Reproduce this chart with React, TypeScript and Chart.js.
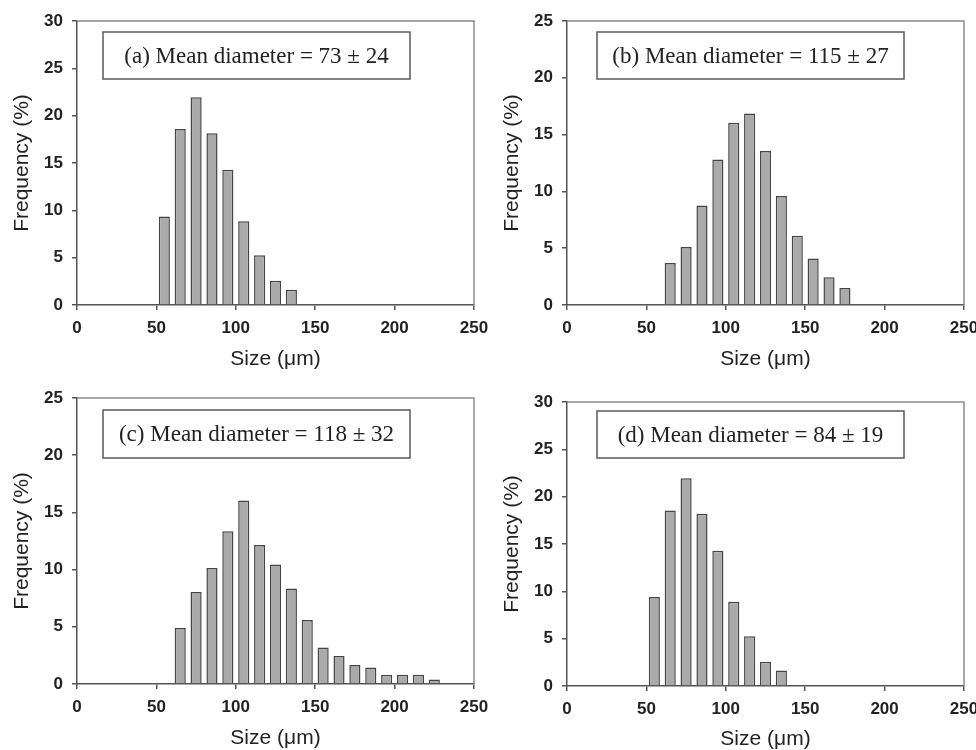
import React, { useEffect, useRef } from 'react';
import { Chart, registerables } from 'chart.js';

Chart.register(...registerables);

// ---- data ----
const sizesA = [55, 65, 75, 85, 95, 105, 115, 125, 135];
const freqA = [9.35, 18.6, 21.95, 18.15, 14.3, 8.85, 5.25, 2.55, 1.6];

const sizesB = [65, 75, 85, 95, 105, 115, 125, 135, 145, 155, 165, 175];
const freqB = [3.7, 5.1, 8.75, 12.8, 16.05, 16.85, 13.55, 9.6, 6.1, 4.1, 2.45, 1.5];

const sizesC = [65, 75, 85, 95, 105, 115, 125, 135, 145, 155, 165, 175, 185, 195, 205, 215, 225];
const freqC = [4.9, 8.05, 10.15, 13.35, 16.05, 12.15, 10.45, 8.35, 5.6, 3.2, 2.45, 1.65, 1.45, 0.8, 0.8, 0.8, 0.4];

const sizesD = [55, 65, 75, 85, 95, 105, 115, 125, 135];
const freqD = [9.4, 18.55, 21.95, 18.2, 14.3, 8.9, 5.25, 2.55, 1.65];

const labelA = '(a) Mean diameter = 73 ± 24';
const labelB = '(b) Mean diameter = 115 ± 27';
const labelC = '(c) Mean diameter = 118 ± 32';
const labelD = '(d) Mean diameter = 84 ± 19';

const xMin = 0;
const xMax = 250;
const xStep = 50;
const yMaxA = 30;
const yMaxB = 25;
const yMaxC = 25;
const yMaxD = 30;
const yStep = 5;

const xTitle = 'Size (μm)';
const yTitle = 'Frequency (%)';

// ---- layout / style ----
type PanelCfg = {
  sizes: number[];
  freq: number[];
  label: string;
  yMax: number;
  left: number;
  top: number;
  w: number;
  h: number;
  padTop: number;
  padRight: number;
  yW: number;
  xH: number;
  yTitlePad: number;
  xTitlePad: number;
  boxDx: number;
  boxDy: number;
  boxW: number;
  boxH: number;
};

const panels: PanelCfg[] = [
  { sizes: sizesA, freq: freqA, label: labelA, yMax: yMaxA, left: 0, top: 0, w: 488, h: 375, padTop: 21, padRight: 14, yW: 77, xH: 70, yTitlePad: 12, xTitlePad: 5, boxDx: 26, boxDy: 11, boxW: 307, boxH: 47 },
  { sizes: sizesB, freq: freqB, label: labelB, yMax: yMaxB, left: 488, top: 0, w: 488, h: 375, padTop: 21, padRight: 12, yW: 79, xH: 70, yTitlePad: 14, xTitlePad: 5, boxDx: 30, boxDy: 11, boxW: 307, boxH: 47 },
  { sizes: sizesC, freq: freqC, label: labelC, yMax: yMaxC, left: 0, top: 375, w: 488, h: 375, padTop: 23, padRight: 14, yW: 77, xH: 66, yTitlePad: 12, xTitlePad: 1, boxDx: 26, boxDy: 12, boxW: 307, boxH: 48 },
  { sizes: sizesD, freq: freqD, label: labelD, yMax: yMaxD, left: 488, top: 375, w: 488, h: 375, padTop: 27, padRight: 12, yW: 79, xH: 64, yTitlePad: 14, xTitlePad: 0, boxDx: 30, boxDy: 9, boxW: 307, boxH: 47 },
];

const barFill = '#aaaaaa';
const barBorder = '#454545';
const axisColor = '#555555';
const frameColor = '#8a8a8a';
const textColor = '#222222';

const framePlugin = {
  id: 'frame',
  afterDatasetsDraw(chart: any) {
    const { ctx, chartArea } = chart;
    ctx.save();
    ctx.strokeStyle = frameColor;
    ctx.lineWidth = 1.5;
    ctx.beginPath();
    ctx.moveTo(chartArea.left, chartArea.top);
    ctx.lineTo(chartArea.right, chartArea.top);
    ctx.lineTo(chartArea.right, chartArea.bottom);
    ctx.stroke();
    ctx.restore();
  },
};

const boxPlugin = {
  id: 'meanBox',
  afterDraw(chart: any, _args: any, opts: any) {
    if (!opts || !opts.text) return;
    const { ctx, chartArea } = chart;
    const x = chartArea.left + opts.dx;
    const y = chartArea.top + opts.dy;
    ctx.save();
    ctx.fillStyle = '#ffffff';
    ctx.fillRect(x, y, opts.w, opts.h);
    ctx.strokeStyle = '#5a5a5a';
    ctx.lineWidth = 1.5;
    ctx.strokeRect(x, y, opts.w, opts.h);
    ctx.fillStyle = textColor;
    ctx.font = '23px "Liberation Serif", "Times New Roman", serif';
    ctx.textAlign = 'center';
    ctx.textBaseline = 'middle';
    ctx.fillText(opts.text, x + opts.w / 2, y + opts.h / 2 + 1);
    ctx.restore();
  },
};

function Panel({ cfg }: { cfg: PanelCfg }) {
  const ref = useRef<HTMLCanvasElement>(null);
  useEffect(() => {
    if (!ref.current) return;
    const points = cfg.sizes.map((s, i) => ({ x: s, y: cfg.freq[i] }));
    const chart = new Chart(ref.current, {
      type: 'bar',
      data: {
        datasets: [
          {
            data: points as any,
            backgroundColor: barFill,
            borderColor: barBorder,
            borderWidth: 1.5,
            barPercentage: 0.7,
            categoryPercentage: 1,
          },
        ],
      },
      plugins: [framePlugin, boxPlugin],
      options: {
        animation: false,
        responsive: false,
        maintainAspectRatio: false,
        layout: { padding: { top: cfg.padTop, right: cfg.padRight, left: 0, bottom: 0 } },
        plugins: {
          legend: { display: false },
          tooltip: { enabled: false },
          meanBox: { text: cfg.label, dx: cfg.boxDx, dy: cfg.boxDy, w: cfg.boxW, h: cfg.boxH },
        } as any,
        scales: {
          x: {
            type: 'linear',
            min: xMin,
            max: xMax,
            offset: false,
            ticks: {
              stepSize: xStep,
              color: textColor,
              font: { family: '"Liberation Sans", Arial, sans-serif', size: 17, weight: 'bold' },
              padding: 8,
              maxRotation: 0,
              autoSkip: false,
            },
            grid: { offset: false, drawOnChartArea: false, drawTicks: true, tickLength: 5, color: axisColor, lineWidth: 1.5 },
            border: { display: true, color: axisColor, width: 1.5 },
            title: {
              display: true,
              text: xTitle,
              color: textColor,
              font: { family: '"Liberation Sans", Arial, sans-serif', size: 21, lineHeight: 1 },
              padding: { top: 0, bottom: cfg.xTitlePad },
            },
            afterFit(scale: any) {
              scale.height = cfg.xH;
              scale.paddingLeft = 0;
              scale.paddingRight = 0;
            },
          },
          y: {
            type: 'linear',
            min: 0,
            max: cfg.yMax,
            ticks: {
              stepSize: yStep,
              color: textColor,
              font: { family: '"Liberation Sans", Arial, sans-serif', size: 17, weight: 'bold' },
              padding: 9,
            },
            grid: { drawOnChartArea: false, drawTicks: true, tickLength: 5, color: axisColor, lineWidth: 1.5 },
            border: { display: true, color: axisColor, width: 1.5 },
            title: {
              display: true,
              text: yTitle,
              color: textColor,
              font: { family: '"Liberation Sans", Arial, sans-serif', size: 21, lineHeight: 1 },
              padding: { top: cfg.yTitlePad, bottom: 0 },
            },
            afterFit(scale: any) {
              scale.width = cfg.yW;
              scale.paddingTop = 0;
              scale.paddingBottom = 0;
            },
          },
        },
      } as any,
    });
    return () => chart.destroy();
  }, [cfg]);
  return (
    <canvas
      ref={ref}
      width={cfg.w}
      height={cfg.h}
      style={{ position: 'absolute', left: cfg.left, top: cfg.top, width: cfg.w, height: cfg.h }}
    />
  );
}

export default function App() {
  return (
    <div style={{ position: 'absolute', left: 0, top: 0, width: 976, height: 750, overflow: 'hidden', background: '#ffffff' }}>
      {panels.map((p, i) => (
        <Panel key={i} cfg={p} />
      ))}
    </div>
  );
}
